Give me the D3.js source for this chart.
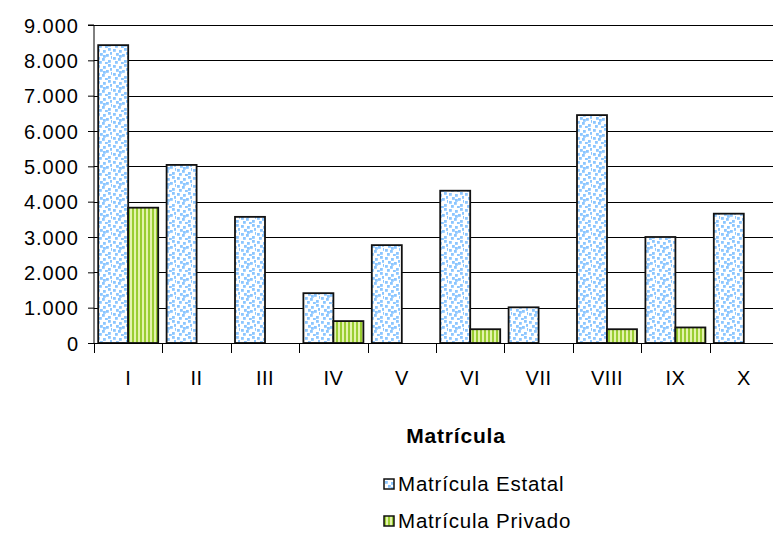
<!DOCTYPE html>
<html>
<head>
<meta charset="utf-8">
<script src="https://cdn.jsdelivr.net/npm/d3@7"></script>
<style>
  html, body { margin: 0; padding: 0; background: #fff; }
  svg { display: block; }
  text { font-family: "Liberation Sans", Arial, sans-serif; fill: #000; }
</style>
</head>
<body>
<svg id="chart" width="773" height="533"></svg>
<script>
const categories = ["I", "II", "III", "IV", "V", "VI", "VII", "VIII", "IX", "X"];
const seriesNames = ["Matrícula Estatal", "Matrícula Privado"];
const estatal = [8430, 5040, 3570, 1410, 2770, 4310, 1010, 6450, 3000, 3660];
const privado = [3830, null, null, 620, null, 390, null, 390, 440, null];
const yTicks = [0, 1000, 2000, 3000, 4000, 5000, 6000, 7000, 8000, 9000];
const yTickLabels = ["0", "1.000", "2.000", "3.000", "4.000", "5.000", "6.000", "7.000", "8.000", "9.000"];
const axisTitle = "Matrícula";

const svg = d3.select("#chart");
const plotLeft = 94, plotRight = 778, plotTop = 25, plotBottom = 343;

const defs = svg.append("defs");
// dotted blue pattern
const pb = defs.append("pattern").attr("id", "pEst").attr("patternUnits", "userSpaceOnUse")
  .attr("width", 16).attr("height", 16);
pb.append("rect").attr("width", 16).attr("height", 16).attr("fill", "#ffffff");
const dots = [[1,1],[7,2],[12,0],[4,5],[10,6],[15,8],[1,9],[6,10],[12,12],[3,13],[9,14],[14,4],[7,7]];
dots.forEach(d => pb.append("rect").attr("x", d[0]).attr("y", d[1]).attr("width", 2.8).attr("height", 2.8)
  .attr("fill", "#8cc6ff"));
// green stripes
const pg = defs.append("pattern").attr("id", "pPriv").attr("patternUnits", "userSpaceOnUse")
  .attr("width", 4).attr("height", 4);
pg.append("rect").attr("width", 4).attr("height", 4).attr("fill", "#e4f3ad");
pg.append("rect").attr("width", 2).attr("height", 4).attr("fill", "#9acd32");

const x = d3.scaleBand().domain(categories).range([plotLeft, plotRight]).padding(0);
const xs = d3.scaleBand().domain(seriesNames).range([4.2, x.bandwidth() - 4.2]).padding(0);
const y = d3.scaleLinear().domain([0, 9000]).range([plotBottom, plotTop]);

// gridlines
svg.append("g").selectAll("line").data(yTicks.filter(t => t > 0)).join("line")
  .attr("x1", plotLeft).attr("x2", 773).attr("y1", d => Math.round(y(d)) + 0.5).attr("y2", d => Math.round(y(d)) + 0.5)
  .attr("stroke", "#000").attr("stroke-width", 1);

// bars
const data = [];
categories.forEach((c, i) => {
  if (estatal[i] != null) data.push({c, s: seriesNames[0], v: estatal[i], fill: "url(#pEst)"});
  if (privado[i] != null) data.push({c, s: seriesNames[1], v: privado[i], fill: "url(#pPriv)"});
});
svg.append("g").selectAll("rect").data(data).join("rect")
  .attr("x", d => x(d.c) + xs(d.s))
  .attr("y", d => y(d.v))
  .attr("width", xs.bandwidth())
  .attr("height", d => plotBottom - y(d.v))
  .attr("fill", d => d.fill)
  .attr("stroke", "#111").attr("stroke-width", 1.8);

// y axis
const yAxis = d3.axisLeft(y).tickValues(yTicks).tickSize(6).tickPadding(9)
  .tickFormat((d, i) => yTickLabels[i]);
const gy = svg.append("g").attr("transform", `translate(${plotLeft},0)`).call(yAxis);
gy.attr("font-family", null).attr("font-size", null);
gy.select(".domain").attr("stroke", "#000").attr("d", `M-6,${plotTop}H0V${plotBottom}`);
gy.selectAll(".tick line").attr("stroke", "#000");
gy.selectAll(".tick text").style("font-size", "20px").style("letter-spacing", "1px")
  .attr("dy", "0.36em");

// x axis
const gx = svg.append("g").attr("transform", `translate(0,${plotBottom})`);
gx.append("line").attr("x1", plotLeft).attr("x2", 773).attr("y1", 0.5).attr("y2", 0.5).attr("stroke", "#000");
gx.selectAll("line.tk").data(categories).join("line").attr("class", "tk")
  .attr("x1", d => Math.round(x(d)) + 0.5).attr("x2", d => Math.round(x(d)) + 0.5)
  .attr("y1", 0).attr("y2", 10).attr("stroke", "#000");
gx.selectAll("text").data(categories).join("text")
  .attr("x", d => x(d) + x.bandwidth() / 2).attr("y", 42)
  .attr("text-anchor", "middle").style("font-size", "20px").style("letter-spacing", "0.5px")
  .text(d => d);

// axis title
svg.append("text").attr("x", 456).attr("y", 443).attr("text-anchor", "middle")
  .style("font-size", "21px").style("font-weight", "bold").style("letter-spacing", "0.8px")
  .text(axisTitle);

// legend
const legend = svg.append("g");
const fills = ["url(#pEst)", "url(#pPriv)"];
seriesNames.forEach((n, i) => {
  const ly = 484 + i * 37;
  legend.append("rect").attr("x", 384).attr("y", ly - 5).attr("width", 10).attr("height", 10)
    .attr("fill", fills[i]).attr("stroke", "#111").attr("stroke-width", 1.5);
  legend.append("text").attr("x", 398).attr("y", ly).attr("dy", "0.36em")
    .style("font-size", "20.5px").style("letter-spacing", "0.8px").text(n);
});
</script>
</body>
</html>
